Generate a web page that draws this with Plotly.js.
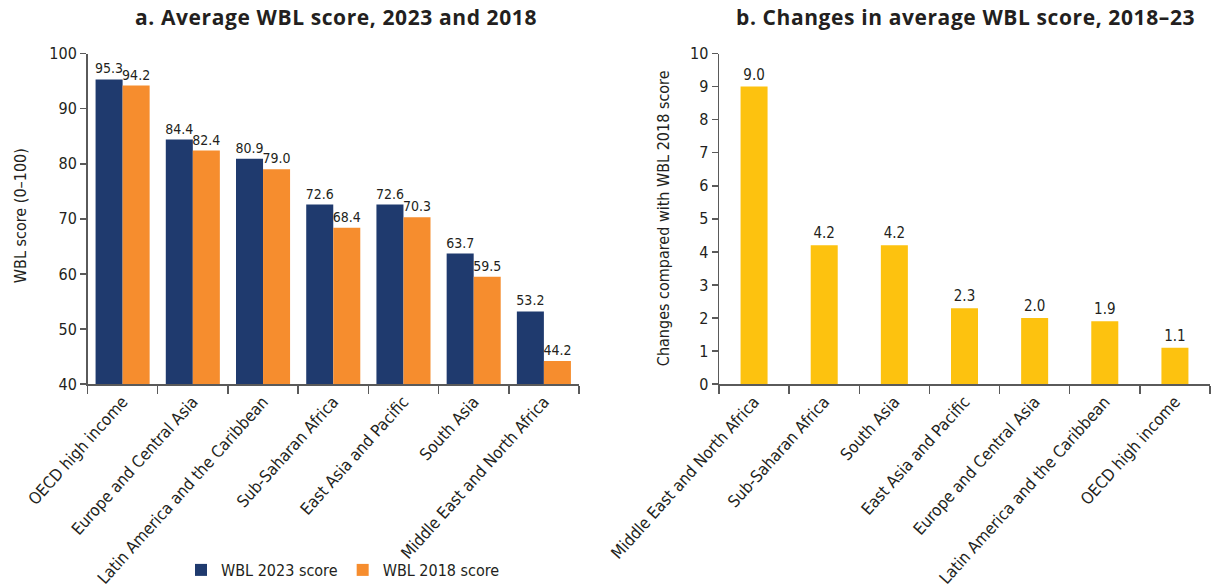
<!DOCTYPE html>
<html>
<head>
<meta charset="utf-8">
<script src="https://cdn.plot.ly/plotly-3.0.1.min.js"></script>
<style>
  html, body { margin: 0; padding: 0; background: #fff; }
  #chart { width: 1218px; height: 587px; }
  text[style*="DejaVu"], tspan[style*="DejaVu"] { font-stretch: condensed !important; }
</style>
</head>
<body>
<div id="chart"></div>
<script>
// ---- Data ----
const regionsA = [
  "OECD high income",
  "Europe and Central Asia",
  "Latin America and the Caribbean",
  "Sub-Saharan Africa",
  "East Asia and Pacific",
  "South Asia",
  "Middle East and North Africa"
];
const score2023 = [95.3, 84.4, 80.9, 72.6, 72.6, 63.7, 53.2];
const score2018 = [94.2, 82.4, 79.0, 68.4, 70.3, 59.5, 44.2];

const regionsB = [
  "Middle East and North Africa",
  "Sub-Saharan Africa",
  "South Asia",
  "East Asia and Pacific",
  "Europe and Central Asia",
  "Latin America and the Caribbean",
  "OECD high income"
];
const changes = [9.0, 4.2, 4.2, 2.3, 2.0, 1.9, 1.1];

const yTicksA = [40, 50, 60, 70, 80, 90, 100];
const yTicksB = [0, 1, 2, 3, 4, 5, 6, 7, 8, 9, 10];

// ---- Styles ----
const NAVY = "#1f3a6e";
const ORANGE = "#f68d2e";
const YELLOW = "#fdc20f";
const TXT = "#231f20";
const AX = "#5a5a5a";
const COND = "'DejaVu Sans Condensed', 'DejaVu Sans', sans-serif";
const BOLD = "'Open Sans', 'Noto Sans', sans-serif";

const traces = [
  {
    type: "bar", name: "WBL 2023 score", x: regionsA, y: score2023,
    xaxis: "x", yaxis: "y", marker: { color: NAVY },
    text: score2023.map(v => v.toFixed(1)), textposition: "outside",
    textfont: { family: COND, size: 14, color: TXT }, cliponaxis: false,
    constraintext: "none", hoverinfo: "x+y"
  },
  {
    type: "bar", name: "WBL 2018 score", x: regionsA, y: score2018,
    xaxis: "x", yaxis: "y", marker: { color: ORANGE },
    text: score2018.map(v => v.toFixed(1)), textposition: "outside",
    textfont: { family: COND, size: 14, color: TXT }, cliponaxis: false,
    constraintext: "none", hoverinfo: "x+y"
  },
  {
    type: "bar", name: "Change", x: regionsB, y: changes,
    xaxis: "x2", yaxis: "y2", marker: { color: YELLOW }, width: 0.385,
    text: changes.map(v => v.toFixed(1)), textposition: "outside",
    textfont: { family: COND, size: 15, color: TXT }, cliponaxis: false,
    constraintext: "none", showlegend: false, hoverinfo: "x+y"
  }
];

const xCommon = {
  type: "category", showgrid: false, zeroline: false,
  showline: true, linecolor: AX, linewidth: 1.5,
  ticks: "outside", tickson: "boundaries", ticklen: 8, tickcolor: AX, tickwidth: 1.5,
  tickangle: -48, tickfont: { family: COND, size: 16.5, color: TXT },
  automargin: false, fixedrange: true
};
const yCommon = {
  showgrid: false, zeroline: false,
  showline: true, linecolor: AX, linewidth: 1.5,
  ticks: "outside", ticklen: 6, tickcolor: AX, tickwidth: 1.5,
  tickfont: { family: COND, size: 16, color: TXT },
  automargin: false, fixedrange: true
};

const W = 1218, H = 587;
const px = v => v / W;
const py = v => 1 - v / H;

const layout = {
  width: W, height: H,
  margin: { l: 0, r: 0, t: 0, b: 0 },
  paper_bgcolor: "#fff", plot_bgcolor: "#fff",
  barmode: "group", bargap: 0.23, bargroupgap: 0,
  showlegend: true,
  legend: {
    orientation: "h", x: px(181), y: py(575), xanchor: "left", yanchor: "middle",
    font: { family: COND, size: 16, color: TXT }, itemwidth: 30,
    bgcolor: "rgba(0,0,0,0)"
  },
  xaxis: Object.assign({}, xCommon, { domain: [px(87.5), px(579)], anchor: "y" }),
  yaxis: Object.assign({}, yCommon, {
    domain: [py(387.5), py(54)], anchor: "x", range: [40, 100],
    tickvals: yTicksA
  }),
  xaxis2: Object.assign({}, xCommon, { domain: [px(719), px(1210)], anchor: "y2" }),
  yaxis2: Object.assign({}, yCommon, {
    domain: [py(387.5), py(54)], anchor: "x2", range: [0, 10],
    tickvals: yTicksB
  }),
  annotations: [
    { text: "<b><span style=\"letter-spacing:0.6px\">a. Average WBL score, 2023 and 2018</span></b>", xref: "paper", yref: "paper",
      x: px(336), y: py(17), xanchor: "center", yanchor: "middle", showarrow: false,
      font: { family: BOLD, size: 21, color: TXT } },
    { text: "<b><span style=\"letter-spacing:0.6px\">b. Changes in average WBL score, 2018–23</span></b>", xref: "paper", yref: "paper",
      x: px(965), y: py(17), xanchor: "center", yanchor: "middle", showarrow: false,
      font: { family: BOLD, size: 21, color: TXT } },
    { text: "WBL score (0–100)", xref: "paper", yref: "paper",
      x: px(20), y: py(218), xanchor: "center", yanchor: "middle", showarrow: false,
      textangle: -90, font: { family: COND, size: 16, color: TXT } },
    { text: "Changes compared with WBL 2018 score", xref: "paper", yref: "paper",
      x: px(663), y: py(220), xanchor: "center", yanchor: "middle", showarrow: false,
      textangle: -90, font: { family: COND, size: 16, color: TXT } }
  ]
};

Plotly.newPlot("chart", traces, layout, { displayModeBar: false, staticPlot: true });
</script>
</body>
</html>
